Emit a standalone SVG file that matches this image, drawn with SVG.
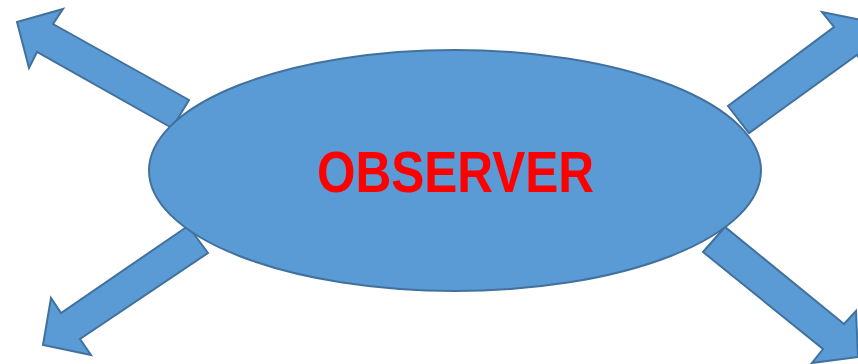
<svg xmlns="http://www.w3.org/2000/svg" width="858" height="364" viewBox="0 0 858 364">
<style>
.shape{fill:#5B9BD5;stroke:#41719C;stroke-width:2;stroke-linejoin:miter}
.label{font-family:"Liberation Sans",Arial,sans-serif;font-weight:bold;font-size:57px;fill:#FF0000}
</style>
<rect width="858" height="364" fill="#FFFFFF"/>
<g id="connectors">
<polygon class="shape" points="17,22 63,9 53,24 189,100 172,128 37,52 29,68"/>
<polygon class="shape" points="871,22 866,68 857,55 749,133 728,106 834,27 822,12"/>
<polygon class="shape" points="43,345 51,298 61,313 188,226 208,253 80,339 91,355"/>
<polygon class="shape" points="858,357 812,363 823,349 703,252 725,227 844,324 856,311"/>
</g>
<g id="observer">
<ellipse class="shape" cx="455" cy="170.5" rx="306" ry="120.5"/>
<text class="label" x="317" y="192" textLength="277" lengthAdjust="spacingAndGlyphs">OBSERVER</text>
</g>
</svg>
